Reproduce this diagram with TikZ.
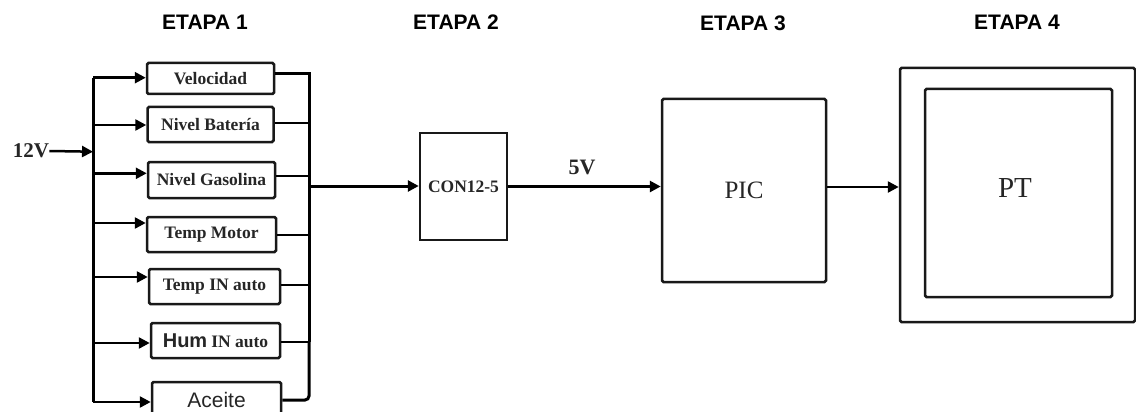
\documentclass[tikz,border=0pt]{standalone}
\usepackage{fontspec}
\setmainfont{Liberation Serif}
\newfontfamily\arialf{Liberation Sans}
\usetikzlibrary{arrows.meta}
\tikzset{
  ln/.style={line width=2.5pt, draw=black},
  arr/.style={ln, -{Triangle[length=11pt,width=11pt]}},
  sbox/.style={draw=black!90, line width=2.5pt, rounded corners=1.5pt, inner sep=0pt, text=black!85},
  lbl/.style={font=\bfseries\fontsize{17.5}{20}\selectfont},
  head/.style={font=\arialf\bfseries\fontsize{21}{24}\selectfont, inner sep=0pt},
}
\begin{document}
\begin{tikzpicture}[x=1pt,y=-1pt]
\useasboundingbox (0,0) rectangle (1136,412);
% headers
\node[head] (h1) at (205,22) {ETAPA 1};
\node[head] (h2) at (456,22) {ETAPA 2};
\node[head] (h3) at (743,23) {ETAPA 3};
\node[head] (h4) at (1017,22) {ETAPA 4};
% stage 1 boxes
\node[sbox,lbl,minimum width=127pt,minimum height=31pt] (velo) at (210.5,78.5) {Velocidad};
\node[sbox,lbl,minimum width=126pt,minimum height=35pt] (nbat) at (210.5,124.5) {Nivel Batería};
\node[sbox,lbl,minimum width=127pt,minimum height=36pt] (ngas) at (211.5,180) {Nivel Gasolina};
\node[sbox,lbl,minimum width=129pt,minimum height=35pt] (tmot) at (211.5,234.5) {Temp Motor};
\node[sbox,lbl,minimum width=131pt,minimum height=35pt] (tin) at (214.5,286.5) {Temp IN auto};
\node[sbox,minimum width=129pt,minimum height=35pt] (hum) at (215.5,340.5) {{\arialf\bfseries\fontsize{20}{22}\selectfont Hum}\hspace{0.4em}{\bfseries\fontsize{17.5}{20}\selectfont IN auto}};
\node[sbox,minimum width=129pt,minimum height=36pt,font=\arialf\fontsize{21}{24}\selectfont] (ace) at (216.5,400) {Aceite};
% left bus
\coordinate (L1) at (93,77.7);
\coordinate (L2) at (93,125);
\coordinate (L3) at (93,173.3);
\coordinate (L4) at (93,223);
\coordinate (L5) at (93,277);
\coordinate (L6) at (93,343);
\coordinate (L7) at (93,402);
\coordinate (L0) at (93,151.7);
\draw[ln, line width=3pt] (L1) -- (L7);
\draw[arr] (L1) -- (L1 -| velo.west);
\draw[arr] (L2) -- (L2 -| nbat.west);
\draw[arr] (L3) -- (L3 -| ngas.west);
\draw[arr] (L4) -- (L4 -| tmot.west);
\draw[arr] (L5) -- (L5 -| tin.west);
\draw[arr] (L6) -- (L6 -| hum.west);
\draw[arr] (L7) -- (L7 -| ace.west);
% 12V input
\node[font=\bfseries\fontsize{21}{24}\selectfont, inner sep=0pt, text=black!85] (v12) at (31,151) {12V};
\draw[arr] (v12.east) -- (L0);
% right bus
\coordinate (R1) at (309,74);
\coordinate (R2) at (309,123);
\coordinate (R3) at (309,176);
\coordinate (R4) at (309,235);
\coordinate (R5) at (309,285);
\coordinate (R6) at (309,342);
\coordinate (R7) at (309,400);
\coordinate (RO) at (309,186);
\draw[ln, line width=3pt] (velo.east |- R1) -- (R1) -- (R6);
\draw[ln, line width=3pt, rounded corners=4pt] (R6) -- (R7) -- (ace.east |- R7);
\draw[ln] (nbat.east |- R2) -- (R2);
\draw[ln] (ngas.east |- R3) -- (R3);
\draw[ln] (tmot.east |- R4) -- (R4);
\draw[ln] (tin.east |- R5) -- (R5);
\draw[ln] (hum.east |- R6) -- (R6);
% stage 2
\node[sbox,lbl,minimum width=87pt,minimum height=107pt, rounded corners=0pt] (con) at (463.5,186.5) {CON12-5};
\draw[arr, line width=3pt] (RO) -- (RO -| con.west);
% stage 3
\node[sbox,minimum width=164pt,minimum height=183pt,font=\fontsize{25}{28}\selectfont] (pic) at (744,190.5) {PIC};
\draw[arr, line width=3pt] (con.east) -- (con.east -| pic.west);
\node[font=\bfseries\fontsize{22}{24}\selectfont, inner sep=0pt, text=black!85] (v5) at (582,167) {5V};
% stage 4
\node[sbox,minimum width=235pt,minimum height=254pt] (ptout) at (1017.5,195) {};
\node[sbox,minimum width=187pt,minimum height=208pt] (ptin) at (1018.5,193) {};
\node[font=\fontsize{29}{32}\selectfont, inner sep=0pt, text=black!85] (pt) at (1015,188) {PT};
\draw[arr] ([yshift=3.5pt]pic.east) -- ([yshift=3.5pt]pic.east -| ptout.west);
\end{tikzpicture}
\end{document}
